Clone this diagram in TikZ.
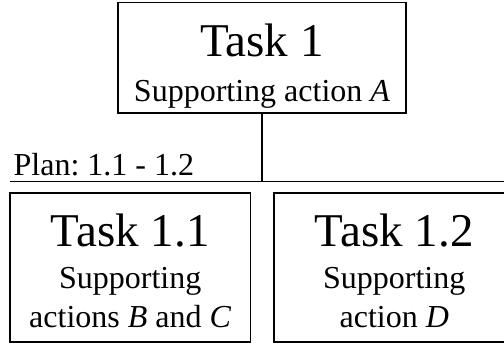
\documentclass[tikz,border=0pt]{standalone}
\usepackage{fontspec}
\setmainfont{Liberation Serif}
\frenchspacing
\begin{document}
\begin{tikzpicture}[x=0.5pt, y=-0.5pt, line width=0.7pt,
    box/.style={draw, shape=rectangle, inner sep=0pt},
    title/.style={anchor=base, inner sep=0pt, font=\fontsize{23.5}{28}\selectfont},
    sub/.style={anchor=base, inner sep=0pt, align=center, font=\fontsize{16}{19.5}\selectfont}]
    \useasboundingbox (0,0) rectangle (504,345);
    \clip (0,0) rectangle (504,345);

    \node[box, minimum width=144pt, minimum height=55.25pt] at (262,57.75) (task1) {};
    \node[title] at (262,56.7) (task1t) {Task 1};
    \node[sub] at (262,101.7) (task1s) {Supporting action \textit{A}};

    \coordinate (planW) at (10,181.5);
    \coordinate (planE) at (520,181.5);
    \node[sub, anchor=base west] at (13,175) (plan) {Plan: 1.1 - 1.2};

    \node[box, minimum width=120.25pt, minimum height=74.5pt] at (130.25,267.5) (task11) {};
    \node[title] at (130.25,246.7) (task11t) {Task 1.1};
    \node[sub] at (130.25,327) (task11s) {Supporting\\ actions \textit{B} and \textit{C}};

    \node[box, minimum width=120.25pt, minimum height=74.5pt] at (394.25,267.5) (task12) {};
    \node[title] at (394.25,246.7) (task12t) {Task 1.2};
    \node[sub] at (394.25,327) (task12s) {Supporting\\ action \textit{D}};

    \draw (planW) -- (planE);
    \draw (task1.south) -- (task1.south |- planW);
\end{tikzpicture}
\end{document}
